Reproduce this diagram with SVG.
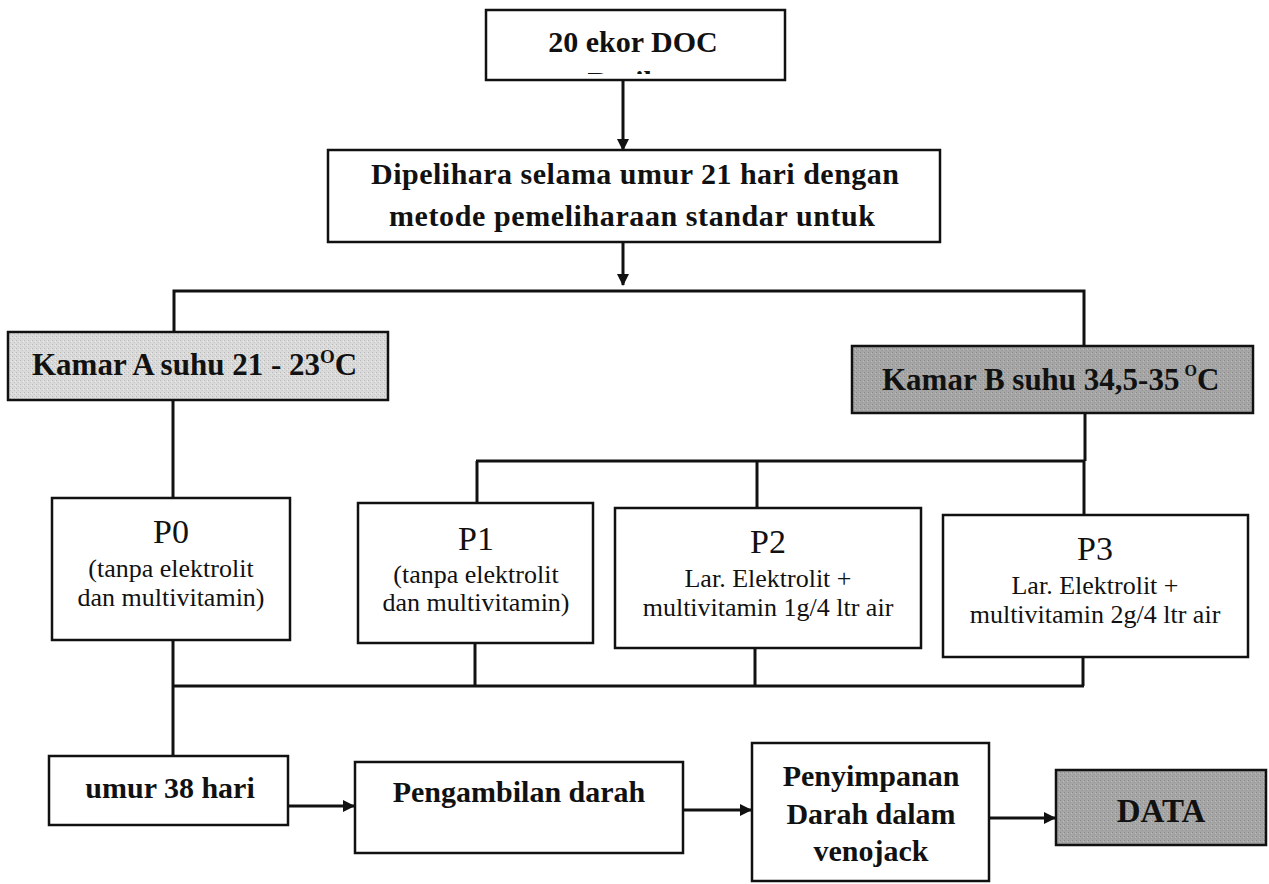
<svg xmlns="http://www.w3.org/2000/svg" width="1269" height="884" viewBox="0 0 1269 884">
<style>
  .box{fill:#fff;stroke:#111;stroke-width:2.5}
  .ga{fill:url(#pa);stroke:#111;stroke-width:2.5}
  .gb{fill:url(#pb);stroke:#111;stroke-width:2.5}
  .ln{fill:none;stroke:#111;stroke-width:3}
  .b{font-family:"Liberation Serif","Tinos","Times New Roman","DejaVu Serif",serif;font-weight:bold;fill:#111}
  .r{font-family:"Liberation Serif","Tinos","Times New Roman","DejaVu Serif",serif;font-weight:normal;fill:#111}
</style>
<defs>
  <marker id="ah" viewBox="0 0 12 12" refX="11" refY="6" markerWidth="12" markerHeight="12" markerUnits="userSpaceOnUse" orient="auto">
    <path d="M0,0 L12,6 L0,12 z" fill="#111"/>
  </marker>
  <pattern id="pa" width="4" height="4" patternUnits="userSpaceOnUse">
    <rect width="4" height="4" fill="#dadada"/>
    <rect x="0" y="0" width="1" height="1" fill="#b8b8b8"/>
    <rect x="2" y="2" width="1" height="1" fill="#c4c4c4"/>
    <rect x="3" y="1" width="1" height="1" fill="#ececec"/>
  </pattern>
  <pattern id="pb" width="4" height="4" patternUnits="userSpaceOnUse">
    <rect width="4" height="4" fill="#a6a6a6"/>
    <rect x="0" y="0" width="1" height="1" fill="#8a8a8a"/>
    <rect x="2" y="2" width="1" height="1" fill="#959595"/>
    <rect x="3" y="1" width="1" height="1" fill="#bdbdbd"/>
  </pattern>
  <clipPath id="c1"><rect x="486" y="10" width="299" height="64"/></clipPath>
</defs>

<g id="connectors">
  <line class="ln" x1="623" y1="80" x2="623" y2="150" marker-end="url(#ah)"/>
  <line class="ln" x1="623" y1="242" x2="623" y2="285" marker-end="url(#ah)"/>
  <polyline class="ln" points="174,332 174,291 1084,291 1084,348"/>
  <line class="ln" x1="173" y1="400" x2="173" y2="498"/>
  <line class="ln" x1="1085" y1="413" x2="1085" y2="461"/>
  <line class="ln" x1="476" y1="461" x2="1085" y2="461"/>
  <line class="ln" x1="477" y1="461" x2="477" y2="503"/>
  <line class="ln" x1="757" y1="461" x2="757" y2="508"/>
  <line class="ln" x1="1084" y1="461" x2="1084" y2="515"/>
  <line class="ln" x1="173" y1="640" x2="173" y2="756"/>
  <line class="ln" x1="475" y1="643" x2="475" y2="686"/>
  <line class="ln" x1="755" y1="648" x2="755" y2="686"/>
  <line class="ln" x1="1083" y1="657" x2="1083" y2="686"/>
  <line class="ln" x1="172" y1="686" x2="1084" y2="686"/>
  <line class="ln" x1="288" y1="806" x2="354" y2="806" marker-end="url(#ah)"/>
  <line class="ln" x1="683" y1="810" x2="751" y2="810" marker-end="url(#ah)"/>
  <line class="ln" x1="989" y1="818" x2="1055" y2="818" marker-end="url(#ah)"/>
</g>

<g id="n-doc">
  <rect class="box" x="486" y="10" width="299" height="70"/>
  <text class="b" x="633" y="52" font-size="30" text-anchor="middle">20 ekor DOC</text>
  <text class="b" x="633" y="92" font-size="30" text-anchor="middle" clip-path="url(#c1)">Broiler</text>
</g>

<g id="n-pelihara">
  <rect class="box" x="328" y="150" width="612" height="92"/>
  <text class="b" x="635" y="184" font-size="30" text-anchor="middle" textLength="528" lengthAdjust="spacing">Dipelihara selama umur 21 hari dengan</text>
  <text class="b" x="632" y="226" font-size="30" text-anchor="middle" textLength="486" lengthAdjust="spacing">metode pemeliharaan standar untuk</text>
</g>

<g id="n-kamarA">
  <rect class="ga" x="8" y="332" width="380" height="68"/>
  <text class="b" x="32" y="375" font-size="31">Kamar A suhu 21 - 23<tspan font-size="19" dy="-12">O</tspan><tspan dy="12">C</tspan></text>
</g>

<g id="n-kamarB">
  <rect class="gb" x="852" y="346" width="401" height="67"/>
  <text class="b" x="882" y="390" font-size="31">Kamar B suhu 34,5-35<tspan font-size="16" dx="5" dy="-14">O</tspan><tspan dy="14">C</tspan></text>
</g>

<g id="n-p0">
  <rect class="box" x="52" y="498" width="238" height="142"/>
  <text class="r" x="171" y="543" font-size="34" text-anchor="middle">P0</text>
  <text class="r" x="171" y="577" font-size="26" text-anchor="middle">(tanpa elektrolit</text>
  <text class="r" x="171" y="606" font-size="26" text-anchor="middle">dan multivitamin)</text>
</g>

<g id="n-p1">
  <rect class="box" x="358" y="503" width="235" height="140"/>
  <text class="r" x="476" y="550" font-size="34" text-anchor="middle">P1</text>
  <text class="r" x="476" y="583" font-size="26" text-anchor="middle">(tanpa elektrolit</text>
  <text class="r" x="476" y="611" font-size="26" text-anchor="middle">dan multivitamin)</text>
</g>

<g id="n-p2">
  <rect class="box" x="615" y="508" width="306" height="140"/>
  <text class="r" x="768" y="553" font-size="34" text-anchor="middle">P2</text>
  <text class="r" x="768" y="587" font-size="26" text-anchor="middle">Lar. Elektrolit +</text>
  <text class="r" x="768" y="616" font-size="26" text-anchor="middle">multivitamin 1g/4 ltr air</text>
</g>

<g id="n-p3">
  <rect class="box" x="943" y="515" width="305" height="142"/>
  <text class="r" x="1095" y="560" font-size="34" text-anchor="middle">P3</text>
  <text class="r" x="1095" y="594" font-size="26" text-anchor="middle">Lar. Elektrolit +</text>
  <text class="r" x="1095" y="623" font-size="26" text-anchor="middle">multivitamin 2g/4 ltr air</text>
</g>

<g id="n-umur">
  <rect class="box" x="49" y="756" width="239" height="69"/>
  <text class="b" x="170" y="798" font-size="30" text-anchor="middle">umur 38 hari</text>
</g>

<g id="n-ambil">
  <rect class="box" x="355" y="762" width="328" height="91"/>
  <text class="b" x="519" y="802" font-size="30" text-anchor="middle">Pengambilan darah</text>
</g>

<g id="n-simpan">
  <rect class="box" x="752" y="743" width="237" height="138"/>
  <text class="b" x="871" y="786" font-size="30" text-anchor="middle">Penyimpanan</text>
  <text class="b" x="871" y="824" font-size="30" text-anchor="middle">Darah dalam</text>
  <text class="b" x="871" y="861" font-size="30" text-anchor="middle">venojack</text>
</g>

<g id="n-data">
  <rect class="gb" x="1056" y="770" width="210" height="75"/>
  <text class="b" x="1161" y="822" font-size="33" text-anchor="middle">DATA</text>
</g>
</svg>
